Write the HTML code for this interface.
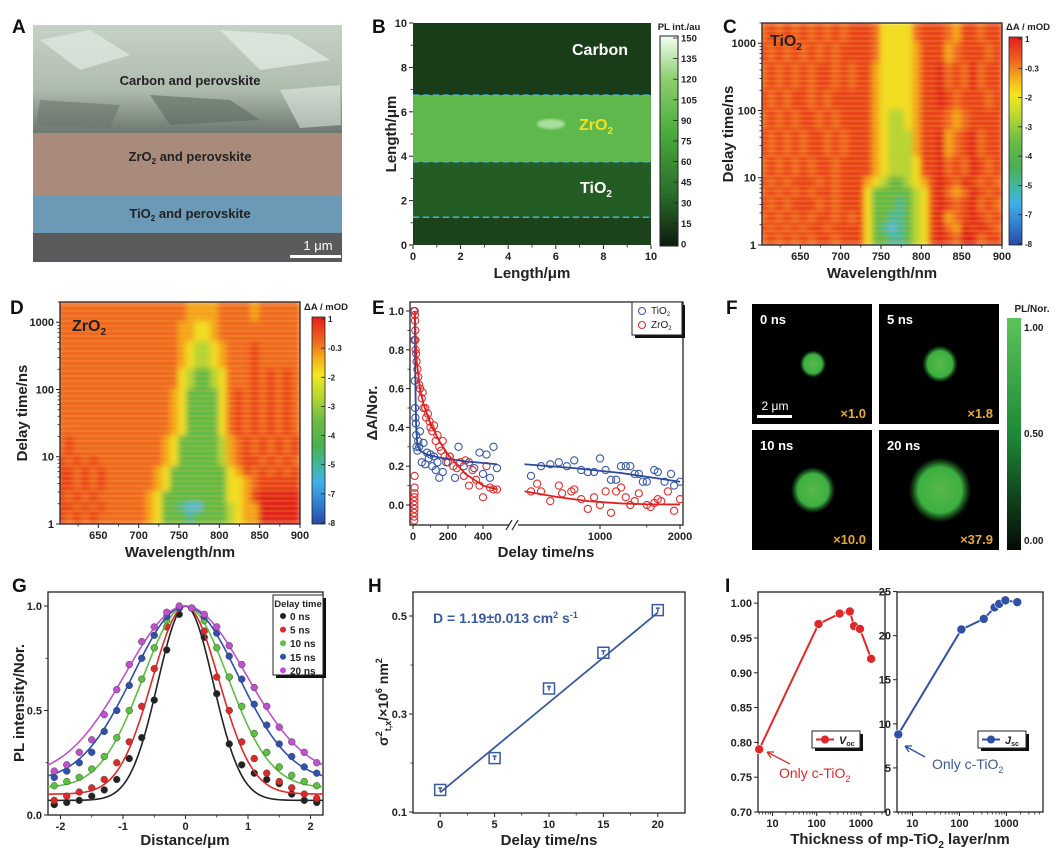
<!DOCTYPE html>
<html><head><meta charset="utf-8">
<style>
html,body{margin:0;padding:0;background:#fff;}
svg{display:block;font-family:"Liberation Sans",Arial,sans-serif;}
text{font-family:"Liberation Sans",Arial,sans-serif;}
.pl{font-size:19px;font-weight:bold;fill:#111;}
.tl{font-size:11px;font-weight:bold;fill:#222;}
.at{font-size:15px;font-weight:bold;fill:#222;}
</style></head>
<body>
<svg id="fig" width="1059" height="855" viewBox="0 0 1059 855" xmlns="http://www.w3.org/2000/svg">
<defs>
  <linearGradient id="semTop" x1="0" y1="0" x2="0" y2="1">
    <stop offset="0" stop-color="#c6d2c6"/><stop offset="0.6" stop-color="#aebcae"/><stop offset="1" stop-color="#6c786e"/>
  </linearGradient>
  <linearGradient id="bBar" x1="0" y1="0" x2="0" y2="1">
    <stop offset="0" stop-color="#f4fff4"/><stop offset="0.2" stop-color="#8fd070"/><stop offset="0.45" stop-color="#4cae3c"/><stop offset="0.75" stop-color="#2a6e2a"/><stop offset="1" stop-color="#0e1a0e"/>
  </linearGradient>
  <linearGradient id="taBar" x1="0" y1="0" x2="0" y2="1">
    <stop offset="0" stop-color="#e41e1c"/><stop offset="0.12" stop-color="#ee6a20"/><stop offset="0.2" stop-color="#f5b01a"/><stop offset="0.28" stop-color="#f2e81e"/><stop offset="0.38" stop-color="#b8d832"/><stop offset="0.5" stop-color="#6cbc44"/><stop offset="0.62" stop-color="#4cb050"/><stop offset="0.72" stop-color="#40b8a0"/><stop offset="0.8" stop-color="#40b0e8"/><stop offset="0.9" stop-color="#3080d0"/><stop offset="1" stop-color="#2a48a8"/>
  </linearGradient>
  <linearGradient id="fBar" x1="0" y1="0" x2="0" y2="1">
    <stop offset="0" stop-color="#5cc45a"/><stop offset="0.5" stop-color="#1e8a38"/><stop offset="1" stop-color="#050a05"/>
  </linearGradient>
  <radialGradient id="spot">
    <stop offset="0" stop-color="#58b848"/><stop offset="0.7" stop-color="#3cb040"/><stop offset="1" stop-color="#2a8a30" stop-opacity="0"/>
  </radialGradient>
  <pattern id="stripes" width="6" height="5" patternUnits="userSpaceOnUse">
    <rect x="0" y="0" width="6" height="2" fill="rgba(255,190,50,0.18)"/>
  </pattern>
  <filter id="blur3" x="-5%" y="-5%" width="110%" height="110%"><feGaussianBlur stdDeviation="3"/></filter>
  <filter id="blur1"><feGaussianBlur stdDeviation="1.2"/></filter>
  <clipPath id="clipC"><rect x="762" y="23" width="240" height="222"/></clipPath>
  <clipPath id="clipD"><rect x="60" y="302" width="240" height="222"/></clipPath>
</defs>

<!-- Panel A -->
<g>
  <rect x="33" y="25" width="309" height="108" fill="url(#semTop)"/>
  <polygon points="40,40 90,30 130,55 80,70" fill="#e2eae2" opacity="0.7"/>
  <polygon points="220,30 290,35 330,60 260,70 240,50" fill="#e6eee6" opacity="0.7"/>
  <polygon points="150,95 230,100 260,120 170,125" fill="#5e6a60" opacity="0.6"/>
  <polygon points="40,100 120,105 110,128 36,126" fill="#6a766c" opacity="0.6"/>
  <polygon points="280,90 340,85 341,125 300,128" fill="#eef4ee" opacity="0.5"/>
  <rect x="33" y="133" width="309" height="62" fill="#a98b7b"/>
  <rect x="33" y="195" width="309" height="38" fill="#6c9ab6"/>
  <rect x="33" y="233" width="309" height="29" fill="#5a5a5c"/>
  <text x="190" y="85" text-anchor="middle" font-size="13" font-weight="bold" fill="#222">Carbon and perovskite</text>
  <text x="190" y="161" text-anchor="middle" font-size="13" font-weight="bold" fill="#222">ZrO<tspan font-size="8" dy="3">2</tspan><tspan dy="-3"> and perovskite</tspan></text>
  <text x="190" y="218" text-anchor="middle" font-size="13" font-weight="bold" fill="#222">TiO<tspan font-size="8" dy="3">2</tspan><tspan dy="-3"> and perovskite</tspan></text>
  <rect x="290" y="255" width="51" height="3" fill="#fff"/>
  <text x="318" y="250" text-anchor="middle" font-size="13" fill="#fff">1 μm</text>
</g>

<!-- panel letters -->
<text class="pl" x="12" y="33">A</text>
<text class="pl" x="372" y="33">B</text>
<text class="pl" x="723" y="33">C</text>
<text class="pl" x="10" y="314">D</text>
<text class="pl" x="372" y="314">E</text>
<text class="pl" x="726" y="314">F</text>
<text class="pl" x="12" y="592">G</text>
<text class="pl" x="368" y="592">H</text>
<text class="pl" x="725" y="592">I</text>

<!-- B static labels -->
<text class="at" x="532" y="278" text-anchor="middle">Length/μm</text>
<text class="at" transform="translate(396,134) rotate(-90)" text-anchor="middle">Length/μm</text>
<rect x="660" y="36" width="18" height="210" fill="url(#bBar)" stroke="#222" stroke-width="1"/>
<text x="679" y="30" text-anchor="middle" font-size="9.5" font-weight="bold" fill="#222">PL int./au</text>

<!-- C static -->
<text class="at" x="882" y="278" text-anchor="middle">Wavelength/nm</text>
<text class="at" transform="translate(733,134) rotate(-90)" text-anchor="middle">Delay time/ns</text>
<rect x="1009" y="37" width="13" height="208" fill="url(#taBar)" stroke="#222" stroke-width="0.8"/>
<text x="1028" y="30" text-anchor="middle" font-size="9.5" font-weight="bold" fill="#222">ΔA / mOD</text>

<!-- D static -->
<text class="at" x="180" y="557" text-anchor="middle">Wavelength/nm</text>
<text class="at" transform="translate(27,413) rotate(-90)" text-anchor="middle">Delay time/ns</text>
<rect x="312" y="317" width="13" height="207" fill="url(#taBar)" stroke="#222" stroke-width="0.8"/>
<text x="326" y="310" text-anchor="middle" font-size="9.5" font-weight="bold" fill="#222">ΔA / mOD</text>

<!-- E static -->
<text class="at" x="546" y="557" text-anchor="middle">Delay time/ns</text>
<text class="at" transform="translate(377,413) rotate(-90)" text-anchor="middle">ΔA/Nor.</text>

<!-- F colorbar -->
<rect x="1007" y="318" width="14" height="232" fill="url(#fBar)"/>
<text x="1032" y="312" text-anchor="middle" font-size="10" font-weight="bold" fill="#222">PL/Nor.</text>
<text x="1024" y="331" font-size="10" font-weight="bold" fill="#222">1.00</text>
<text x="1024" y="437" font-size="10" font-weight="bold" fill="#222">0.50</text>
<text x="1024" y="544" font-size="10" font-weight="bold" fill="#222">0.00</text>

<!-- G static -->
<text class="at" x="185" y="845" text-anchor="middle">Distance/μm</text>
<text class="at" transform="translate(24,703) rotate(-90)" text-anchor="middle">PL intensity/Nor.</text>

<!-- H static -->
<text class="at" x="549" y="845" text-anchor="middle">Delay time/ns</text>
<text transform="translate(388,702) rotate(-90)" text-anchor="middle" font-size="14" font-weight="bold" fill="#222">σ<tspan font-size="9" dy="-6">2</tspan><tspan font-size="9" dy="9">t,x</tspan><tspan dy="-3">/×10</tspan><tspan font-size="9" dy="-6">6</tspan><tspan dy="6"> nm</tspan><tspan font-size="9" dy="-6">2</tspan></text>
<text x="433" y="623" font-size="14" font-weight="bold" fill="#3a5aa0">D = 1.19±0.013 cm<tspan font-size="9" dy="-5">2</tspan><tspan dy="5"> s</tspan><tspan font-size="9" dy="-5">-1</tspan></text>

<!-- I static -->
<text class="at" x="900" y="844" text-anchor="middle">Thickness of mp-TiO<tspan font-size="10" dy="4">2</tspan><tspan dy="-4"> layer/nm</tspan></text>

<g id="dyn"></g>
</svg>

<script>
// ---------- DATA ----------
// Panel B
const bRegionY = [0, 1.25, 3.75, 6.75, 10];
const bRegionLevel = [0.12, 0.2, 0.62, 0.1];
const bDashY = [6.75, 3.75, 1.25];
const bTicks = [0, 2, 4, 6, 8, 10];
const bBarLabels = ['150','135','120','105','90','75','60','45','30','15','0'];
// Panels C & D heatmaps
const hmWavelengths = [600,610,620,630,640,650,660,670,680,690,700,710,720,730,740,750,760,770,780,790,800,810,820,830,840,850,860,870,880,890];
const hmTimeEdges = [2000,1000,500,200,100,50,20,10,7,5,3,2,1.5,1];
const cLevels = [
"212121212121112444421112311211",
"121212121211112444431113211121",
"212121211212113444431102120211",
"121211212111113444431101211121",
"212121121211113455431112321111",
"121212112121113455531103210211",
"212121211211113455541102120121",
"121211121211134566543101201212",
"212121211211146666654102320121",
"121211121211146667654101210212",
"212121211212146677654103210121",
"121212112111146787654102301012",
"212121211211146677654101200211"];
const dLevels = [
"222222222222222233332222322222",
"222222222222222334432222222222",
"222222222222222345543222122222",
"222222222222222456654222121212",
"222222222222223466664212121212",
"222222222222223466664212121212",
"212222222222234666665321212121",
"121212222222234666665321121212",
"112121222222346666666431212121",
"112121222222346666666443211111",
"121212222223466666666443100000",
"112121222223466788666543300000",
"121212222223466676666543300000"];
const hmXTicks = [650,700,750,800,850,900];
const hmYTicks = [1,10,100,1000];
const taBarLabels = ['1','-0.3','-2','-3','-4','-5','-7','-8'];
// Panel E
const eBlueT = [5,8,10,12,14,16,18,20,25,30,35,40,50,60,70,80,90,100,110,120,130,140,150,170,190,210,240,260,290,320,350,380,400,420,440,460,480,
  550,600,650,700,750,800,850,900,950,1000,1050,1100,1150,1200,1250,1300,1350,1400,1450,1500,1600,1650,1750,1850,1900,2000];
const eBlueV = [1.0,0.85,0.64,0.5,0.45,0.42,0.36,0.3,0.28,0.33,0.3,0.38,0.22,0.32,0.21,0.27,0.24,0.26,0.2,0.25,0.18,0.22,0.14,0.17,0.22,0.25,0.14,0.3,0.2,0.22,0.19,0.27,0.16,0.26,0.14,0.3,0.19,
  0.15,0.2,0.21,0.22,0.2,0.23,0.18,0.17,0.17,0.24,0.18,0.13,0.13,0.2,0.2,0.2,0.16,0.16,0.12,0.12,0.18,0.17,0.12,0.16,0.1,0.12];
const eRedT = [7,7,7,8,8,8,8,9,9,9,10,11,12,13,14,15,18,20,25,30,35,40,50,55,60,70,75,85,95,100,110,120,130,140,150,160,170,180,200,210,230,250,270,290,300,320,340,360,380,400,420,440,460,480,
  550,580,600,650,700,720,780,800,850,900,950,1000,1050,1100,1150,1200,1250,1300,1350,1400,1500,1550,1600,1650,1700,1800,1900,2000];
const eRedV = [-0.08,-0.06,-0.04,-0.02,0.0,0.02,0.04,0.06,0.09,0.15,1.0,0.98,0.95,0.9,0.85,0.8,0.78,0.74,0.7,0.66,0.62,0.6,0.55,0.58,0.5,0.5,0.45,0.47,0.43,0.4,0.38,0.41,0.33,0.36,0.3,0.28,0.33,0.25,0.22,0.25,0.2,0.19,0.22,0.15,0.23,0.1,0.18,0.13,0.1,0.04,0.2,0.09,0.08,0.08,
  0.07,0.11,0.07,0.02,0.1,0.06,0.07,0.08,0.03,-0.02,0.04,0.0,0.07,-0.04,0.07,0.09,0.04,0.0,0.02,0.06,0.0,-0.01,0.01,0.03,0.02,0.07,-0.03,0.03];
const eBlueFitT1 = [10,14,18,25,40,80,150,300,480];
const eBlueFitV1 = [1.0,0.6,0.4,0.31,0.28,0.26,0.245,0.225,0.21];
const eBlueFitT2 = [520,800,1200,1600,2000];
const eBlueFitV2 = [0.21,0.19,0.165,0.14,0.12];
const eRedFitT1 = [10,20,40,60,100,150,200,300,400,480];
const eRedFitV1 = [1.0,0.75,0.6,0.52,0.42,0.33,0.26,0.16,0.1,0.08];
const eRedFitT2 = [520,700,900,1200,1500,2000];
const eRedFitV2 = [0.07,0.04,0.02,0.008,0.004,0.003];
const eYTicks = [0,0.2,0.4,0.6,0.8,1.0];
const eXTicks1 = [0,200,400];
const eXTicks2 = [1000,2000];
// Panel F
const fTimes = ['0 ns','5 ns','10 ns','20 ns'];
const fScale = ['×1.0','×1.8','×10.0','×37.9'];
const fRadiusUm = [0.68,0.92,1.15,1.62];
// Panel G
const gX = [-2.1,-1.9,-1.7,-1.5,-1.3,-1.1,-0.9,-0.7,-0.5,-0.3,-0.1,0.1,0.3,0.5,0.7,0.9,1.1,1.3,1.5,1.7,1.9,2.1];
const gDelays = ['0 ns','5 ns','10 ns','15 ns','20 ns'];
const g0 = [0.05,0.06,0.07,0.09,0.12,0.17,0.27,0.37,0.55,0.79,0.96,0.99,0.85,0.58,0.34,0.24,0.2,0.17,0.15,0.1,0.07,0.06];
const g5 = [0.07,0.09,0.11,0.13,0.17,0.25,0.35,0.52,0.7,0.9,0.99,0.99,0.88,0.66,0.5,0.35,0.27,0.2,0.16,0.13,0.1,0.08];
const g10 = [0.14,0.16,0.18,0.22,0.28,0.37,0.5,0.65,0.8,0.93,0.99,0.99,0.93,0.8,0.66,0.52,0.39,0.3,0.23,0.19,0.16,0.14];
const g15 = [0.18,0.21,0.25,0.3,0.4,0.5,0.62,0.75,0.86,0.95,0.99,0.99,0.95,0.87,0.76,0.65,0.53,0.43,0.34,0.28,0.23,0.2];
const g20 = [0.21,0.24,0.3,0.36,0.48,0.6,0.72,0.83,0.9,0.97,1.0,0.99,0.96,0.9,0.81,0.72,0.61,0.52,0.42,0.35,0.3,0.25];
const gSigma = [0.443,0.534,0.68,0.84,0.96];
const gBase = [0.07,0.1,0.13,0.16,0.18];
const gXTicks = [-2,-1,0,1,2];
const gYTicks = [0.0,0.5,1.0];
// Panel H
const hT = [0,5,10,15,20];
const hV = [0.145,0.21,0.352,0.425,0.512];
const hFitT = [0,20];
const hFitV = [0.14,0.507];
const hXTicks = [0,5,10,15,20];
const hYTicks = [0.1,0.3,0.5];
// Panel I
const iThick = [5,110,330,560,700,950,1700];
const iVoc = [0.79,0.97,0.985,0.988,0.967,0.963,0.92];
const iJsc = [8.8,20.7,21.9,23.2,23.6,24.0,23.8];
const iVocTicks = [0.70,0.75,0.80,0.85,0.90,0.95,1.00];
const iJscTicks = [0,5,10,15,20,25];
const iXTicks = [10,100,1000];

// ---------- HELPERS ----------
const NS = 'http://www.w3.org/2000/svg';
const root = document.getElementById('dyn');
function mk(tag, attrs, parent) {
  const e = document.createElementNS(NS, tag);
  for (const k in attrs) e.setAttribute(k, attrs[k]);
  (parent || root).appendChild(e);
  return e;
}
function lin(d0, d1, r0, r1) { return v => r0 + (v - d0) * (r1 - r0) / (d1 - d0); }
function lg(d0, d1, r0, r1) { const a = Math.log10(d0), b = Math.log10(d1); return v => r0 + (Math.log10(v) - a) * (r1 - r0) / (b - a); }
function label(x, y, s, anchor, size, parent) {
  const t = mk('text', {x: x, y: y, 'text-anchor': anchor, 'font-size': size, 'font-weight': 'bold', fill: '#222'}, parent);
  t.textContent = s;
  return t;
}
function frame(x0, y0, x1, y1, name) {
  const r = mk('rect', {x: x0, y: y0, width: x1 - x0, height: y1 - y0, fill: 'none', stroke: '#222', 'stroke-width': 1.3});
  
  
}
function xAxis(sx, vals, yAxis, fmt, name, minor) {
  const g = mk('g', {});
  
  
  vals.forEach(v => {
    const tk = mk('line', {x1: sx(v), x2: sx(v), y1: yAxis, y2: yAxis + 4, stroke: '#222', 'stroke-width': 1}, g);
    
    
    const t = label(sx(v), yAxis + 15, fmt(v), 'middle', 11, g);
    
    
  });
  (minor || []).forEach(v => {
    const tk = mk('line', {x1: sx(v), x2: sx(v), y1: yAxis, y2: yAxis + 2.5, stroke: '#222', 'stroke-width': 0.8}, g);
    
    
  });
}
function yAxis(sy, vals, xAxisPos, fmt, name, minor) {
  const g = mk('g', {});
  
  
  vals.forEach(v => {
    const tk = mk('line', {x1: xAxisPos - 4, x2: xAxisPos, y1: sy(v), y2: sy(v), stroke: '#222', 'stroke-width': 1}, g);
    
    
    const t = label(xAxisPos - 6, sy(v) + 4, fmt(v), 'end', 11, g);
    
    
  });
  (minor || []).forEach(v => {
    const tk = mk('line', {x1: xAxisPos - 2.5, x2: xAxisPos, y1: sy(v), y2: sy(v), stroke: '#222', 'stroke-width': 0.8}, g);
    
    
  });
}
function greenColor(v) {
  const stops = [[0,[14,26,14]],[0.25,[42,110,42]],[0.55,[76,174,60]],[0.8,[143,208,112]],[1,[244,255,244]]];
  for (let i = 1; i < stops.length; i++) {
    if (v <= stops[i][0]) {
      const a = stops[i-1], b = stops[i], f = (v - a[0]) / (b[0] - a[0]);
      const c = a[1].map((x, j) => Math.round(x + (b[1][j] - x) * f));
      return 'rgb(' + c.join(',') + ')';
    }
  }
  return 'rgb(244,255,244)';
}
const levelColors = ['#e0261a','#e8451c','#ef6b22','#f4a41c','#f1df20','#b4d636','#64ba46','#48b89a','#58bce8','#3a70c8'];

// ---------- PANEL B ----------
(function () {
  const sx = lin(0, 10, 413, 651), sy = lin(0, 10, 245, 23);
  const g = mk('g', {});
  
  
  for (let i = 0; i < bRegionLevel.length; i++) {
    const r = mk('rect', {x: sx(0), y: sy(bRegionY[i+1]), width: sx(10) - sx(0), height: sy(bRegionY[i]) - sy(bRegionY[i+1]), fill: greenColor(bRegionLevel[i])}, g);
    
    
  }
  const hs = mk('ellipse', {cx: sx(5.8), cy: sy(5.45), rx: 14, ry: 5, fill: '#c8f0c0', opacity: 0.7, filter: 'url(#blur1)'}, g);
  
  
  bDashY.forEach(v => {
    const l = mk('line', {x1: sx(0), x2: sx(10), y1: sy(v), y2: sy(v), stroke: '#3cb8e0', 'stroke-width': 1.5, 'stroke-dasharray': '6,4'}, g);
    
    
  });
  const t1 = mk('text', {x: 600, y: 55, 'text-anchor': 'middle', 'font-size': 16, 'font-weight': 'bold', fill: '#fff'}, g);
  t1.textContent = 'Carbon';
  
  
  const t2 = mk('text', {x: 596, y: 130, 'text-anchor': 'middle', 'font-size': 16, 'font-weight': 'bold', fill: '#f0e020'}, g);
  t2.innerHTML = 'ZrO<tspan font-size="10" dy="4">2</tspan>';
  
  
  const t3 = mk('text', {x: 596, y: 193, 'text-anchor': 'middle', 'font-size': 16, 'font-weight': 'bold', fill: '#fff'}, g);
  t3.innerHTML = 'TiO<tspan font-size="10" dy="4">2</tspan>';
  
  
  xAxis(sx, bTicks, 245, v => String(v), 'b-x-axis', [1,3,5,7,9]);
  yAxis(sy, bTicks, 413, v => String(v), 'b-y-axis', [1,3,5,7,9]);
  const by = lin(0, bBarLabels.length - 1, 38, 244);
  bBarLabels.forEach((s, i) => {
    const tk = mk('line', {x1: 673, x2: 678, y1: by(i), y2: by(i), stroke: '#222', 'stroke-width': 0.8});
    
    
    const t = label(681, by(i) + 3.5, s, 'start', 9.5);
    
    
  });
})();

// ---------- PANELS C & D ----------
function heatmap(levels, x0, y0, x1, y1, clip, prefix, sampleName, sampleX, sampleY, barX, barY0, barY1) {
  const sx = lin(600, 900, x0 - 2, x1), sy = lg(1, 2000, y1, y0);
  const outer = mk('g', {'clip-path': 'url(#' + clip + ')'});
  
  
  const inner = mk('g', {filter: 'url(#blur3)'}, outer);
  levels.forEach((row, r) => {
    for (let c = 0; c < hmWavelengths.length; c++) {
      const lv = parseInt(row[c] || '2', 10);
      const w0 = hmWavelengths[c], w1 = w0 + 10;
      const cell = mk('rect', {x: sx(w0) - 1, y: sy(hmTimeEdges[r]) - 1, width: sx(w1) - sx(w0) + 2, height: sy(hmTimeEdges[r+1]) - sy(hmTimeEdges[r]) + 2, fill: levelColors[lv]}, inner);
      
      
    }
  });
  const st = mk('rect', {x: x0, y: y0, width: x1 - x0, height: y1 - y0, fill: 'url(#stripes)'}, outer);
  
  
  frame(x0, y0, x1, y1, prefix + '-plot-frame');
  xAxis(sx, hmXTicks, y1, v => String(v), prefix + '-x-axis', [625,675,725,775,825,875]);
  const minorY = [];
  [1,10,100,1000].forEach(d => { for (let k = 2; k <= 9; k++) if (d * k <= 2000) minorY.push(d * k); });
  yAxis(sy, hmYTicks, x0, v => String(v), prefix + '-y-axis', minorY);
  const tl = mk('text', {x: sampleX, y: sampleY, 'font-size': 16, 'font-weight': 'bold', fill: '#222'});
  tl.innerHTML = sampleName + '<tspan font-size="10" dy="4">2</tspan>';
  
  
  const cy = lin(0, taBarLabels.length - 1, barY0 + 2, barY1 - 1);
  taBarLabels.forEach((s, i) => {
    const tk = mk('line', {x1: barX + 9, x2: barX + 13, y1: cy(i), y2: cy(i), stroke: '#222', 'stroke-width': 0.8});
    
    
    const t = label(barX + 16, cy(i) + 3, s, 'start', 8);
    
    
  });
}
heatmap(cLevels, 762, 23, 1002, 245, 'clipC', 'c', 'TiO', 770, 46, 1009, 37, 245);
heatmap(dLevels, 60, 302, 300, 524, 'clipD', 'd', 'ZrO', 72, 331, 312, 317, 524);

// ---------- PANEL E ----------
(function () {
  const x0 = 410, x1 = 683, y0 = 302, y1 = 525;
  const s1 = lin(0, 200, 413, 448), s2 = lg(500, 2000, 520, 680);
  const sx = t => t <= 500 ? s1(t) : s2(t);
  const sy = lin(0, 1, 505, 311);
  frame(x0, y0, x1, y1, 'e-plot-frame');
  const br = mk('rect', {x: 509, y: y1 - 3, width: 9, height: 6, fill: '#fff'});
  
  
  const bk = mk('path', {d: 'M506,530 L512,520 M512,530 L518,520', stroke: '#222', 'stroke-width': 1.2, fill: 'none'});
  
  
  xAxis(sx, eXTicks1.concat(eXTicks2), y1, v => String(v), 'e-x-axis', [100,300,1500]);
  yAxis(sy, eYTicks, x0, v => v.toFixed(1), 'e-y-axis', [0.1,0.3,0.5,0.7,0.9]);
  function fitLine(T, V, color, name) {
    const p = mk('polyline', {points: T.map((t, i) => sx(t) + ',' + sy(V[i])).join(' '), fill: 'none', stroke: color, 'stroke-width': 1.8});
    
    
  }
  function pts(T, V, color, name) {
    const g = mk('g', {});
    
    
    T.forEach((t, i) => {
      const c = mk('circle', {cx: sx(t), cy: sy(V[i]), r: 3.6, fill: 'none', stroke: color, 'stroke-width': 1.1}, g);
      
      
    });
  }
  pts(eBlueT, eBlueV, '#3a5aa8', 'e-tio2-series');
  pts(eRedT, eRedV, '#e03030', 'e-zro2-series');
  fitLine(eBlueFitT1, eBlueFitV1, '#2a4a9a', 'e-tio2-fit-early');
  fitLine(eBlueFitT2, eBlueFitV2, '#2a4a9a', 'e-tio2-fit-late');
  fitLine(eRedFitT1, eRedFitV1, '#e02020', 'e-zro2-fit-early');
  fitLine(eRedFitT2, eRedFitV2, '#e02020', 'e-zro2-fit-late');
  const lg0 = mk('g', {});
  
  
  mk('rect', {x: 635, y: 305, width: 50, height: 33, fill: '#111'}, lg0);
  mk('rect', {x: 632, y: 302, width: 50, height: 33, fill: '#fff', stroke: '#222', 'stroke-width': 1}, lg0);
  [['TiO', '#3a5aa8', 314], ['ZrO', '#e03030', 328]].forEach(e => {
    const c = mk('circle', {cx: 642, cy: e[2] - 3, r: 3.5, fill: 'none', stroke: e[1], 'stroke-width': 1.1}, lg0);
    
    
    const t = mk('text', {x: 651, y: e[2], 'font-size': 10, fill: '#222'}, lg0);
    t.innerHTML = e[0] + '<tspan font-size="6" dy="2">2</tspan>';
    
    
  });
})();

// ---------- PANEL F ----------
(function () {
  const boxes = [[752,304],[879,304],[752,430],[879,430]];
  const pxPerUm = 17.5;
  fTimes.forEach((lab, i) => {
    const g = mk('g', {});
    
    
    const [bx, by] = boxes[i];
    mk('rect', {x: bx, y: by, width: 120, height: 120, fill: '#000'}, g);
    const r = fRadiusUm[i] * pxPerUm;
    const s = mk('ellipse', {cx: bx + 61, cy: by + 60, rx: r * 1.1, ry: r * 1.15, fill: 'url(#spot)'}, g);
    
    
    const t = mk('text', {x: bx + 8, y: by + 20, 'font-size': 13, 'font-weight': 'bold', fill: '#fff'}, g);
    t.textContent = lab;
    
    
    const m = mk('text', {x: bx + 114, y: by + 114, 'text-anchor': 'end', 'font-size': 13, 'font-weight': 'bold', fill: '#e8a838'}, g);
    m.textContent = fScale[i];
    
    
  });
  const sb = mk('rect', {x: 757, y: 415, width: 35, height: 3, fill: '#fff'});
  
  
  const st = mk('text', {x: 775, y: 410, 'text-anchor': 'middle', 'font-size': 12, fill: '#fff'});
  st.textContent = '2 μm';
  
  
})();

// ---------- PANEL G ----------
(function () {
  const x0 = 48, x1 = 323, y0 = 592, y1 = 815;
  const sx = lin(-2.2, 2.2, x0, x1), sy = lin(0, 1, 815, 606);
  frame(x0, y0, x1, y1, 'g-plot-frame');
  xAxis(sx, gXTicks, y1, v => String(v), 'g-x-axis', [-1.5,-0.5,0.5,1.5]);
  yAxis(sy, gYTicks, x0, v => v.toFixed(1), 'g-y-axis', [0.25,0.75]);
  const series = [g0, g5, g10, g15, g20];
  const colors = ['#222222','#e02828','#5cc040','#3050b0','#c050d0'];
  series.forEach((vals, k) => {
    const pts = [];
    for (let x = -2.2; x <= 2.201; x += 0.05) {
      const v = gBase[k] + (1 - gBase[k]) * Math.exp(-x * x / (2 * gSigma[k] * gSigma[k]));
      pts.push(sx(x) + ',' + sy(v));
    }
    const fit = mk('polyline', {points: pts.join(' '), fill: 'none', stroke: colors[k], 'stroke-width': 1.6});
    
    
    const g = mk('g', {});
    
    
    vals.forEach((v, i) => {
      const c = mk('circle', {cx: sx(gX[i]), cy: sy(v), r: 3.4, fill: colors[k], stroke: '#444', 'stroke-width': 0.5}, g);
      
      
    });
  });
  const lgG = mk('g', {});
  
  
  mk('rect', {x: 276, y: 598, width: 50, height: 80, fill: '#111'}, lgG);
  mk('rect', {x: 273, y: 595, width: 50, height: 80, fill: '#fff', stroke: '#222', 'stroke-width': 1}, lgG);
  const hd = mk('text', {x: 298, y: 607, 'text-anchor': 'middle', 'font-size': 9.5, 'font-weight': 'bold', fill: '#222'}, lgG);
  hd.textContent = 'Delay time';
  
  
  gDelays.forEach((d, k) => {
    const yy = 616 + k * 13.6;
    const c = mk('circle', {cx: 283, cy: yy, r: 3, fill: colors[k]}, lgG);
    
    
    const t = mk('text', {x: 290, y: yy + 4, 'font-size': 10, 'font-weight': 'bold', fill: '#222'}, lgG);
    t.textContent = d;
    
    
  });
})();

// ---------- PANEL H ----------
(function () {
  const x0 = 413, x1 = 685, y0 = 592, y1 = 813;
  const sx = lin(-2.5, 22.5, x0, x1), sy = lin(0.1, 0.5, 812, 616);
  frame(x0, y0, x1, y1, 'h-plot-frame');
  xAxis(sx, hXTicks, y1, v => String(v), 'h-x-axis', [2.5,7.5,12.5,17.5]);
  yAxis(sy, hYTicks, x0, v => v.toFixed(1), 'h-y-axis', [0.2,0.4]);
  const fit = mk('line', {x1: sx(hFitT[0]), y1: sy(hFitV[0]), x2: sx(hFitT[1]), y2: sy(hFitV[1]), stroke: '#3a5aa0', 'stroke-width': 1.8});
  
  
  hT.forEach((t, i) => {
    const s = mk('rect', {x: sx(t) - 5.5, y: sy(hV[i]) - 5.5, width: 11, height: 11, fill: 'none', stroke: '#3a5aa0', 'stroke-width': 1.5});
    
    
    const e = mk('path', {d: 'M' + (sx(t) - 2) + ',' + (sy(hV[i]) - 2) + ' h4 M' + sx(t) + ',' + (sy(hV[i]) - 2) + ' v4', stroke: '#3a5aa0', 'stroke-width': 1.5});
    
    
  });
})();

// ---------- PANEL I ----------
(function () {
  function sub(x0, x1, yd0, yd1, vals, ticks, fmt, color, prefix, legendX, legendLabel) {
    const y0 = 592, y1 = 812;
    const sx = lg(4.7, prefix === 'i-voc' ? 3500 : 6000, x0, x1), sy = lin(yd0, yd1, y1, y0);
    frame(x0, y0, x1, y1, prefix + '-plot-frame');
    const minor = [];
    [1, 10, 100, 1000].forEach(d => { for (let k = 2; k <= 9; k++) { const v = d * k; if (v > 4.7 && sx(v) < x1) minor.push(v); } });
    xAxis(sx, iXTicks, y1, v => String(v), prefix + '-x-axis', minor);
    yAxis(sy, ticks, x0, fmt, prefix + '-y-axis', []);
    const line = mk('polyline', {points: iThick.map((t, i) => sx(t) + ',' + sy(vals[i])).join(' '), fill: 'none', stroke: color, 'stroke-width': 2});
    
    
    iThick.forEach((t, i) => {
      const c = mk('circle', {cx: sx(t), cy: sy(vals[i]), r: 4.5, fill: color, stroke: '#fff', 'stroke-width': 0.6});
      
      
    });
    const lgI = mk('g', {});
    
    
    mk('rect', {x: legendX + 3, y: 734, width: 48, height: 17, fill: '#111'}, lgI);
    mk('rect', {x: legendX, y: 731, width: 48, height: 17, fill: '#fff', stroke: '#222', 'stroke-width': 1}, lgI);
    mk('line', {x1: legendX + 4, x2: legendX + 22, y1: 739.5, y2: 739.5, stroke: color, 'stroke-width': 2}, lgI);
    mk('circle', {cx: legendX + 13, cy: 739.5, r: 4, fill: color}, lgI);
    const lt = mk('text', {x: legendX + 27, y: 744, 'font-size': 11, 'font-style': 'italic', 'font-weight': 'bold', fill: '#222'}, lgI);
    lt.innerHTML = legendLabel + '<tspan font-size="7" dy="2" font-style="normal">oc</tspan>';
    if (legendLabel === 'J') lt.innerHTML = 'J<tspan font-size="7" dy="2" font-style="normal">sc</tspan>';
    
    
  }
  sub(758, 885, 0.70, 1.016, iVoc, iVocTicks, v => v.toFixed(2), '#e02828', 'i-voc', 812, 'V');
  sub(897, 1043, 0, 24.95, iJsc, iJscTicks, v => String(v), '#3050a8', 'i-jsc', 978, 'J');
  const a1 = mk('path', {d: 'M790,764 L767,752 M767,752 L774,752 M767,752 L771,758', stroke: '#e02828', 'stroke-width': 1.3, fill: 'none'});
  
  
  const t1 = mk('text', {x: 779, y: 778, 'font-size': 14, fill: '#e02828'});
  t1.innerHTML = 'Only c-TiO<tspan font-size="9" dy="4">2</tspan>';
  
  
  const a2 = mk('path', {d: 'M925,757 L905,746 M905,746 L912,746 M905,746 L909,752', stroke: '#3050a8', 'stroke-width': 1.3, fill: 'none'});
  
  
  const t2 = mk('text', {x: 932, y: 769, 'font-size': 14, fill: '#3a5a98'});
  t2.innerHTML = 'Only c-TiO<tspan font-size="9" dy="4">2</tspan>';
  
  
})();
</script>
</body></html>
